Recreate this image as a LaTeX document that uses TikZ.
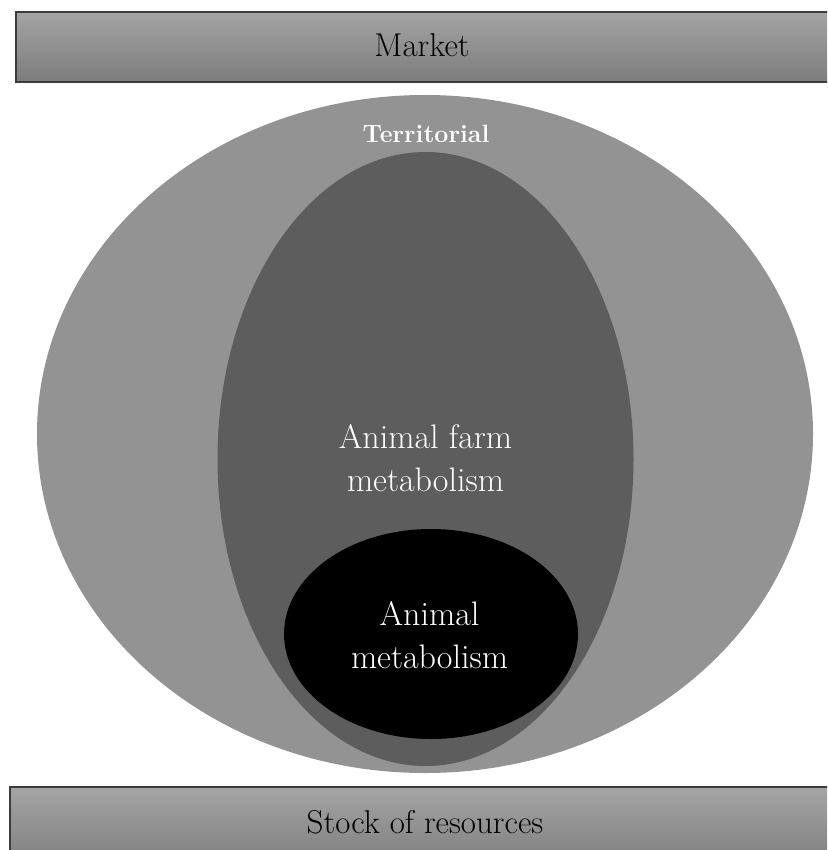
\documentclass[tikz,border=0pt]{standalone}
\usepackage{fontspec}
\usetikzlibrary{shapes.geometric}
\definecolor{outergray}{HTML}{939393}
\definecolor{midgray}{HTML}{5D5D5D}
\definecolor{bartop}{HTML}{A4A4A4}
\definecolor{barbot}{HTML}{7C7C7C}
\definecolor{barline}{HTML}{3C3C3C}
\tikzset{
  bar/.style={draw=barline, line width=2pt, top color=bartop, bottom color=barbot},
  bartext/.style={anchor=base, text=black, inner sep=0pt, font=\fontsize{33}{40}\selectfont},
  whitetext/.style={anchor=base, text=white, inner sep=0pt, font=\fontsize{34}{43}\selectfont},
  zone/.style={draw=none}
}
\begin{document}
\begin{tikzpicture}[x=1pt,y=-1pt]
\clip (0,0) rectangle (827,850);
\fill[white] (0,0) rectangle (827,850);
% bars
\path[bar] (16,12) rectangle (840,82);
\path[bar] (10,787) rectangle (840,870);
% ellipses
\fill[outergray] (425,434) ellipse [x radius=388, y radius=339];
\fill[midgray] (425.5,459) ellipse [x radius=208, y radius=307];
\fill[black] (431,634) ellipse [x radius=147, y radius=105];
% texts
\node[bartext] (market) at (422,57) {Market};
\node[bartext] (stock) at (425,833) {Stock of resources};
\node[anchor=base, text=white, inner sep=0pt, font=\fontsize{25}{30}\selectfont\bfseries] (terr) at (426,143) {Territorial};
\node[whitetext] (farm1) at (425.5,448) {Animal farm};
\node[whitetext] (farm2) at (425.5,491) {metabolism};
\node[whitetext] (anim1) at (429.5,625) {Animal};
\node[whitetext] (anim2) at (429.5,668) {metabolism};
\end{tikzpicture}
\end{document}
